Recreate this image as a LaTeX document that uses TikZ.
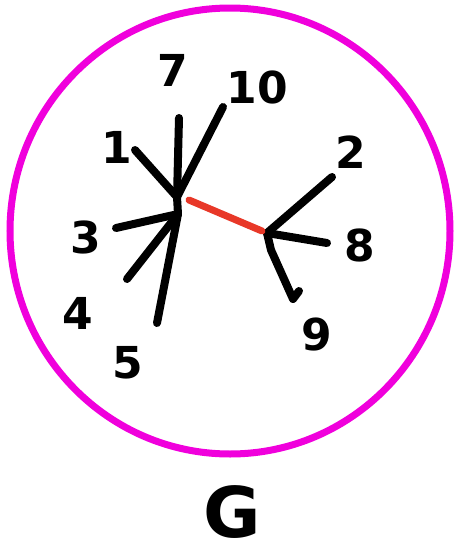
\documentclass[tikz,border=0pt]{standalone}
\usepackage{fontspec}
\setmainfont{DejaVu Sans}
\begin{document}
\begin{tikzpicture}[x=1pt,y=-1pt,
  edge/.style={line width=8pt,line cap=round,line join=round,black},
  bridge/.style={line width=7pt,line cap=round,draw={rgb,255:red,232;green,56;blue,40}},
  lbl/.style={font=\fontsize{44}{44}\selectfont\bfseries,inner sep=0pt},
  ring/.style={line width=7pt,draw={rgb,255:red,240;green,0;blue,220}}]
\useasboundingbox (0,0) rectangle (459,557);
\draw[ring] (230,231) ellipse [x radius=220, y radius=223];
% hubs
\coordinate (hA) at (177,197);
\coordinate (hB) at (178,214);
\coordinate (hR) at (267,233);
% leaf ends
\coordinate (e7) at (179,118);
\coordinate (e10) at (223,107);
\coordinate (e1) at (135,150);
\coordinate (e3) at (116,228);
\coordinate (e4) at (127,279);
\coordinate (e5) at (157,323);
\coordinate (e2) at (332,177);
\coordinate (e8) at (327,243);
\coordinate (e9a) at (271,250);
\coordinate (e9) at (293,299);
\coordinate (e9h) at (299,291);
\coordinate (rA) at (189,200);
\coordinate (rB) at (262,231);
% edges
\draw[edge] (hA) -- (e7);
\draw[edge] (hA) -- (e10);
\draw[edge] (hA) -- (e1);
\draw[edge] (hB) -- (e3);
\draw[edge] (hB) -- (e4);
\draw[edge] (hB) -- (e5);
\draw[edge] (hA) -- (hB);
\draw[edge] (hR) -- (e2);
\draw[edge] (hR) -- (e8);
\draw[edge] (hR) -- (e9a) -- (e9) -- (e9h);
\draw[bridge] (rA) -- (rB);
% labels
\node[lbl] (l7) at (173,70) {7};
\node[lbl] (l10) at (257,87) {10};
\node[lbl] (l1) at (117,147) {1};
\node[lbl] (l3) at (86,237) {3};
\node[lbl] (l4) at (78,313) {4};
\node[lbl] (l5) at (128,363) {5};
\node[lbl] (l2) at (351,152) {2};
\node[lbl] (l8) at (360,245) {8};
\node[lbl] (l9) at (317,335) {9};
\node[font=\fontsize{70}{70}\selectfont\bfseries,inner sep=0pt] (G) at (232,512) {G};
\end{tikzpicture}
\end{document}
